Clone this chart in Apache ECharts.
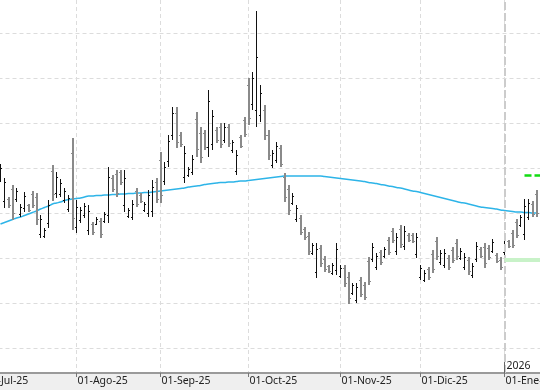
<!DOCTYPE html>
<html>
<head>
<meta charset="utf-8">
<script src="https://cdn.jsdelivr.net/npm/echarts@6/dist/echarts.min.js"></script>
<style>
html,body{margin:0;padding:0;}
#chart{width:540px;height:390px;background:linear-gradient(to bottom,#ffffff 0px,#ffffff 373px,#efefef 373px,#efefef 390px);}
</style>
</head>
<body>
<div id="chart"></div>
<script>
// ---- calendar (trading days shown on the category axis) ----
const calendarStart = '2025-07-01';
const calendarEnd = '2026-01-15';
const holidays = ['2025-12-25', '2025-12-26', '2026-01-01'];
const monthNames = ['Ene','Feb','Mar','Abr','May','Jun','Jul','Ago','Sep','Oct','Nov','Dic'];
const firstBarDate = '2025-07-07';
const yearMarkLabel = '2026';

// ---- OHLC values (one per trading day from 07-Jul-25) ----
const opens = [215,192,194,204,194,179,185,188,199,196,159,157,170,222,200,199,193,184,240,166,
173,178,163,169,169,172,172,178,215,219,221,188,177,176,202,198,183,180,182,211,
233,212,231,258,280,258,216,218,221,274,260,260,246,249,263,266,253,265,242,222,
256,273,308,289,283,277,283,258,228,233,245,216,204,190,174,175,164,157,140,121,
145,134,127,120,123,117,125,116,100,93,113,108,132,134,126,141,137,153,162,142,
164,147,158,158,139,116,113,124,139,152,131,128,135,143,150,135,126,133,118,134,
144,146,145,142,138,133,141,152,160,171,168,159,176,189,199];
const highs = [229,215,196,208,205,189,201,189,202,200,178,165,193,228,221,214,205,198,255,193,
186,190,188,171,176,175,181,226,218,223,223,223,185,193,205,200,191,203,213,215,
241,231,258,286,286,261,247,226,238,281,266,263,303,283,266,270,270,269,253,243,
258,276,315,321,382,308,288,263,243,251,248,220,208,200,188,178,166,161,150,150,
148,137,128,130,150,128,128,121,110,110,116,111,136,150,140,143,146,156,165,160,
168,167,160,160,160,128,123,126,143,156,143,144,138,146,154,145,140,136,130,151,
146,150,148,154,140,136,158,153,163,174,178,194,194,192,203];
const lows = [211,185,185,173,191,176,181,181,185,168,155,155,165,192,195,196,190,181,163,160,
170,175,158,158,168,155,170,170,201,196,208,181,175,173,186,190,181,176,176,190,
190,208,226,253,245,246,210,216,218,236,230,243,236,243,250,245,250,246,240,218,
245,256,268,283,266,271,253,233,225,230,226,191,178,188,171,158,153,138,138,115,
126,121,120,118,118,115,106,89,98,90,96,93,108,131,123,128,135,138,150,138,
145,143,151,150,135,113,111,113,120,133,128,125,123,130,133,133,123,118,115,131,
135,125,133,140,130,123,138,145,145,155,166,153,173,176,176];
const closes = [225,211,188,180,202,186,197,183,188,174,174,163,188,199,216,210,202,195,175,186,
183,187,182,161,174,159,179,216,204,200,211,215,183,189,189,192,189,198,206,194,
198,226,252,280,251,249,240,224,234,243,236,246,292,276,253,249,266,250,251,238,
247,259,275,315,336,300,258,238,240,247,229,196,183,197,185,161,156,142,148,144,
130,124,122,128,144,125,110,95,108,106,99,96,112,146,137,131,144,141,153,156,
149,162,153,152,156,125,120,116,124,137,140,140,126,133,137,142,136,122,127,147,
137,130,136,151,132,126,154,147,148,158,176,187,190,179,180];

// ---- moving average (blue line) ----
const movingAvg = [169,170.5,172,173.5,175,176,177.5,179,180.5,182,184,185.5,187,189,190,191,192.5,193.5,194,194.5,
195,196,197,197,197.5,197.5,198,198,198.5,198.5,199,199,199.5,199.5,200,200,200.5,200.5,201,201.5,
202,202.5,203,203.5,204,204.5,205,206,206.5,207,207.5,208.5,209,209.5,210,210.5,210.5,211,211,211.5,
212,212,212.5,213,213.5,214,214.5,215,215.5,216,216.5,217,217,217,217,217,217,217,217,217,
217,216.5,216,215.5,215,214.5,214,213.5,213,212.5,212,211.5,210.5,210,209.5,208.5,208,207,206.5,205.5,
205,204,203,202,201.5,200.5,199.5,198.5,197.5,196.5,195.5,194.5,193.5,192.5,191.5,190.5,190,189,188,187,
186,185.5,185,184.5,184,183,182.5,182,181.5,181,181,180.5,180.5,180,180];

// ---- reference levels (green lines at right) ----
const targetLevel = 218;     // bright green dashed
const supportLevel = 133.5;  // light green
const targetFromDate = '2026-01-09';
const supportFromDate = '2026-01-02';

// ---- value axis ticks ----
const yMin = 45, yMax = 405, yStep = 45;

// build categories
function ymd(d){return d.toISOString().slice(0,10);}
const categories = [];
(function(){
  let d = new Date(calendarStart + 'T00:00:00Z');
  const end = new Date(calendarEnd + 'T00:00:00Z');
  while (d <= end) {
    const wd = d.getUTCDay();
    const s = ymd(d);
    if (wd !== 0 && wd !== 6 && holidays.indexOf(s) < 0) categories.push(s);
    d = new Date(d.getTime() + 86400000);
  }
})();
const monthStart = new Set();
categories.forEach((c, i) => {
  if (i === 0 || c.slice(0,7) !== categories[i-1].slice(0,7)) monthStart.add(i);
});
const isMonth = (idx) => monthStart.has(idx);
const off = categories.indexOf(firstBarDate);
const yearIdx = categories.findIndex(c => c.slice(0,4) === yearMarkLabel);
const lastIdx = categories.length - 1;

const ohlc = opens.map((o, k) => [off + k, o, highs[k], lows[k], closes[k]]);
const maData = movingAvg.map((v, k) => [off + k, v]);

const font = 'Noto Sans';

function renderBar(params, api) {
  const i = api.value(0);
  const o = api.value(1), h = api.value(2), l = api.value(3), c = api.value(4);
  const ph = api.coord([i, h]), pl = api.coord([i, l]);
  const po = api.coord([i, o]), pc = api.coord([i, c]);
  const up = c >= o;
  const px = Math.floor(ph[0]);
  const w = up ? 1 : 2;
  const color = up ? '#111111' : '#8a8a8a';
  const cx = px + w / 2;
  const yo = Math.floor(po[1]) + 0.5, yc = Math.floor(pc[1]) + 0.5;
  return {
    type: 'group',
    children: [
      {type: 'line', shape: {x1: cx, y1: ph[1], x2: cx, y2: pl[1]}, style: {stroke: color, lineWidth: w}},
      {type: 'line', shape: {x1: px - 1, y1: yo, x2: px, y2: yo}, style: {stroke: color, lineWidth: 1}},
      {type: 'line', shape: {x1: px + w, y1: yc, x2: px + w + 1, y2: yc}, style: {stroke: color, lineWidth: 1}}
    ]
  };
}

const chart = echarts.init(document.getElementById('chart'), null, {renderer: 'canvas'});
chart.setOption({
  animation: false,
  grid: [
    {left: -15.5, right: -0.5, top: 0, bottom: 17, outerBoundsMode: 'none', containLabel: false},
    {left: -15.5, right: -0.5, top: -12, bottom: 42, outerBoundsMode: 'none', containLabel: false}
  ],
  xAxis: [
    {
      type: 'category', gridIndex: 0, data: categories, boundaryGap: false,
      axisLine: {show: true, lineStyle: {color: '#9a9a9a', width: 2}},
      axisTick: {show: true, interval: isMonth, length: 4, lineStyle: {color: '#777777'}},
      axisLabel: {
        interval: isMonth, align: 'left', margin: 3, padding: [0, 0, 0, 1],
        fontFamily: font, fontSize: 10.5, color: '#222222',
        formatter: (v) => '01-' + monthNames[+v.slice(5,7) - 1] + '-' + v.slice(2,4)
      },
      splitLine: {show: true, interval: isMonth, lineStyle: {color: '#dcdcdc', type: [4, 3], width: 1}}
    },
    {type: 'category', gridIndex: 1, data: categories, boundaryGap: false, show: false}
  ],
  yAxis: [
    {type: 'value', gridIndex: 0, min: 0, max: 373, show: false},
    {
      type: 'value', gridIndex: 1, min: yMin, max: yMax, interval: yStep,
      axisLine: {show: false}, axisTick: {show: false}, axisLabel: {show: false},
      splitLine: {show: true, lineStyle: {color: '#dcdcdc', type: [4, 3], width: 1}}
    }
  ],
  series: [
    {
      type: 'line', xAxisIndex: 0, yAxisIndex: 0, data: [], silent: true,
      markLine: {
        silent: true, symbol: ['none', 'none'], label: {show: false},
        data: [
          {xAxis: yearIdx, lineStyle: {color: '#cccccc', width: 2, type: [8, 3]}},
          [{coord: [yearIdx, 0], lineStyle: {color: '#666666', width: 1, type: 'solid'}}, {coord: [yearIdx, 11]}]
        ]
      },
      markPoint: {
        silent: true, symbol: 'circle', symbolSize: 0,
        data: [{coord: [yearIdx, 7], label: {show: true, formatter: yearMarkLabel, position: 'right', distance: 2, fontFamily: font, fontSize: 10.5, color: '#222222'}}]
      }
    },
    {
      type: 'line', xAxisIndex: 1, yAxisIndex: 1, data: maData, smooth: true,
      showSymbol: false, silent: true, z: 3,
      lineStyle: {color: '#2db4e8', width: 1.5},
      markLine: {
        silent: true, symbol: ['none', 'none'], label: {show: false},
        data: [
          [{coord: [categories.indexOf(supportFromDate), supportLevel], lineStyle: {color: '#c8f2c8', width: 4, type: 'solid'}}, {coord: [lastIdx, supportLevel]}],
          [{coord: [categories.indexOf(targetFromDate), targetLevel], lineStyle: {color: '#12dc12', width: 2.5, type: [7, 3]}}, {coord: [lastIdx, targetLevel]}]
        ]
      }
    },
    {
      type: 'custom', xAxisIndex: 1, yAxisIndex: 1, data: ohlc, z: 4,
      encode: {x: 0, y: [1, 2, 3, 4]},
      renderItem: renderBar
    }
  ]
});
</script>
</body>
</html>
